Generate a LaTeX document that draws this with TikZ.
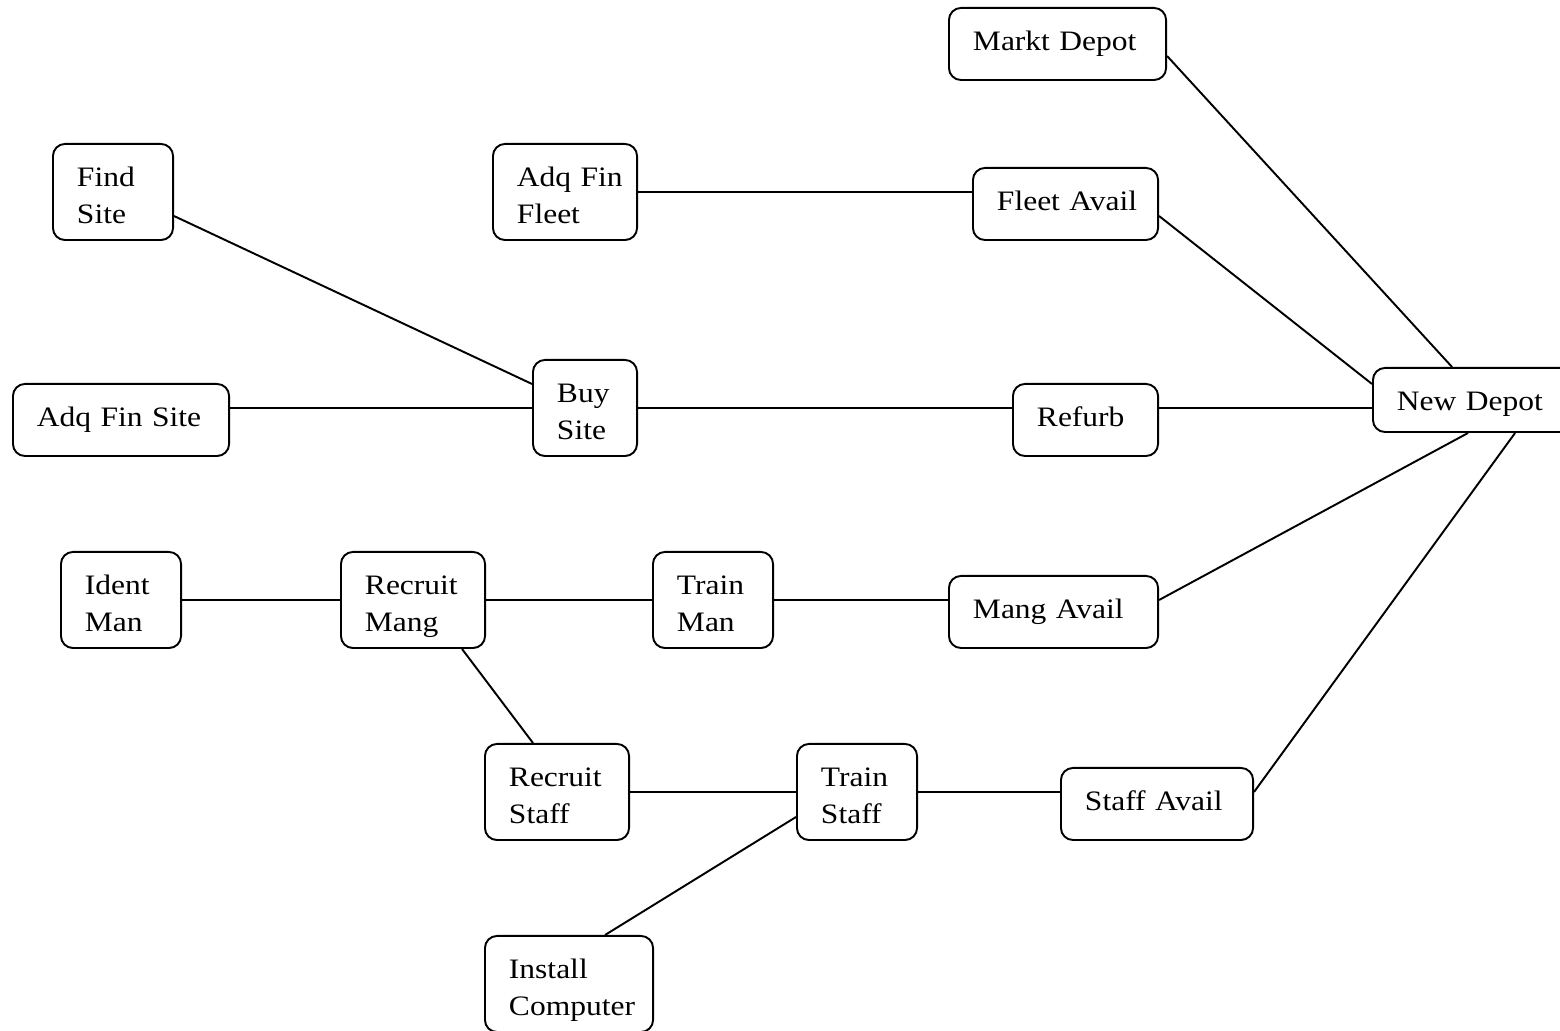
\documentclass[tikz,border=0pt]{standalone}
\usepackage{fontspec}
\setmainfont{Liberation Serif}[FakeStretch=1.12]
\usepackage{tikz}
\tikzset{
    box/.style={draw, line width=0.55pt, rounded corners=0.12cm, anchor=north west,
        align=left, inner xsep=0.24cm, inner ysep=0pt, text height=0.43cm},
    onebox/.style={box, text depth=0.29cm, text width=#1},
    twobox/.style={box, text depth=0.53cm, text width=#1},
    link/.style={line width=0.55pt},
}

\begin{document}
\begin{tikzpicture}[x=0.01cm, y=-0.01cm, font=\fontsize{8}{10.5}\selectfont]
\useasboundingbox (0,0) rectangle (1560,1031);

\node[onebox=1.69cm] (mdepot) at (948,7) {\mbox{Markt Depot}};
\node[twobox=0.72cm] (findsite) at (52,143) {Find\\Site};
\node[twobox=0.96cm] (finfleet) at (492,143) {\mbox{Adq Fin}\\Fleet};
\node[onebox=1.37cm] (fleet) at (972,167) {\mbox{Fleet Avail}};
\node[onebox=1.68cm] (finsite) at (12,383) {\mbox{Adq Fin Site}};
\node[twobox=0.56cm] (buysite) at (532,359) {Buy\\Site};
\node[onebox=0.97cm] (refurb) at (1012,383) {Refurb};
\node[box, text depth=0.21cm, text width=1.60cm] (newdepot) at (1372,367) {\mbox{New Depot}};
\node[twobox=0.72cm] (identman) at (60,551) {Ident\\Man};
\node[twobox=0.96cm] (recmang) at (340,551) {Recruit\\Mang};
\node[twobox=0.72cm] (trainman) at (652,551) {Train\\Man};
\node[onebox=1.61cm] (mangavail) at (948,575) {\mbox{Mang Avail}};
\node[twobox=0.96cm] (recstaff) at (484,743) {Recruit\\Staff};
\node[twobox=0.72cm] (trainstaff) at (796,743) {Train\\Staff};
\node[onebox=1.44cm] (staffavail) at (1060,767) {\mbox{Staff Avail}};
\node[twobox=1.20cm] (install) at (484,935) {Install\\Computer};

% into the new depot
\draw[link] ([yshift=-0.12cm]mdepot.east) -- ([xshift=0.80cm]newdepot.north west);
\draw[link] ([yshift=-0.12cm]fleet.east) -- ([yshift=0.16cm]newdepot.west);
\draw[link] (refurb.east |- buysite.east) -- (newdepot.west |- buysite.east);
\draw[link] (mangavail.east |- trainman.east) -- ([xshift=0.96cm]newdepot.south west);
\draw[link] (staffavail.east |- trainstaff.east) -- ([xshift=1.43cm]newdepot.south west);

% site and fleet
\draw[link] ([yshift=-0.24cm]findsite.east) -- ([yshift=0.24cm]buysite.west);
\draw[link] (finfleet.east) -- (finfleet.east -| fleet.west);
\draw[link] (buysite.west -| finsite.east) -- (buysite.west);
\draw[link] (buysite.east) -- (buysite.east -| refurb.west);

% managers and staff
\draw[link] (identman.east) -- (recmang.west);
\draw[link] (recmang.east) -- (trainman.west);
\draw[link] (trainman.east) -- (trainman.east -| mangavail.west);
\draw[link] ([xshift=0.49cm]recmang.south) -- ([xshift=-0.24cm]recstaff.north);
\draw[link] (recstaff.east) -- (trainstaff.west);
\draw[link] ([xshift=0.36cm]install.north) -- ([yshift=-0.25cm]trainstaff.west);
\draw[link] (trainstaff.east) -- (trainstaff.east -| staffavail.west);
\end{tikzpicture}
\end{document}
